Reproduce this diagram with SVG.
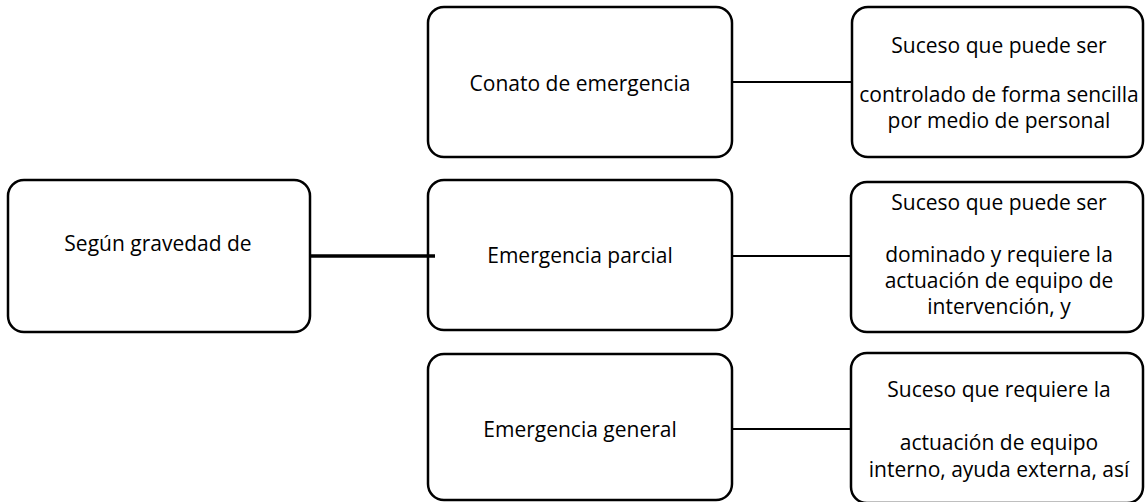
<svg xmlns="http://www.w3.org/2000/svg" width="1145" height="502" viewBox="0 0 1145 502">
<style>
.box{fill:#fff;stroke:#000;stroke-width:2.5}
.t{font-family:"Open Sans","Noto Sans","Liberation Sans",sans-serif;font-size:21px;fill:#000;text-anchor:middle}
.c{stroke:#000;stroke-width:2;fill:none}
</style>
<rect width="1145" height="502" fill="#fff"/>
<g id="n-gravedad">
<rect class="box" x="8" y="180" width="302" height="152" rx="16"/>
<text class="t" x="158" y="251">Según gravedad de</text>
</g>
<g id="n-conato">
<rect class="box" x="428" y="7" width="304" height="150" rx="16"/>
<text class="t" x="580" y="91">Conato de emergencia</text>
</g>
<g id="n-parcial">
<rect class="box" x="428" y="180" width="304" height="150" rx="16"/>
<text class="t" x="580" y="263">Emergencia parcial</text>
</g>
<g id="n-general">
<rect class="box" x="428" y="354" width="304" height="146" rx="16"/>
<text class="t" x="580" y="437">Emergencia general</text>
</g>
<g id="d-conato">
<rect class="box" x="852" y="7" width="291" height="150" rx="16"/>
<text class="t" x="999" y="53">Suceso que puede ser</text>
<text class="t" x="999" y="102">controlado de forma sencilla</text>
<text class="t" x="999" y="128">por medio de personal</text>
</g>
<g id="d-parcial">
<rect class="box" x="851" y="182" width="292" height="150" rx="16"/>
<text class="t" x="999" y="210">Suceso que puede ser</text>
<text class="t" x="999" y="262">dominado y requiere la</text>
<text class="t" x="999" y="288">actuación de equipo de</text>
<text class="t" x="999" y="314">intervención, y</text>
</g>
<g id="d-general">
<rect class="box" x="851" y="353" width="292" height="150" rx="16"/>
<text class="t" x="999" y="397">Suceso que requiere la</text>
<text class="t" x="999" y="450">actuación de equipo</text>
<text class="t" x="999" y="477">interno, ayuda externa, así</text>
</g>
<g id="connectors">
<line class="c" x1="310" y1="256" x2="435" y2="256" style="stroke-width:3.5"/>
<line class="c" x1="732" y1="82" x2="852" y2="82"/>
<line class="c" x1="732" y1="256" x2="851" y2="256"/>
<line class="c" x1="732" y1="429" x2="851" y2="429"/>
</g>
</svg>
